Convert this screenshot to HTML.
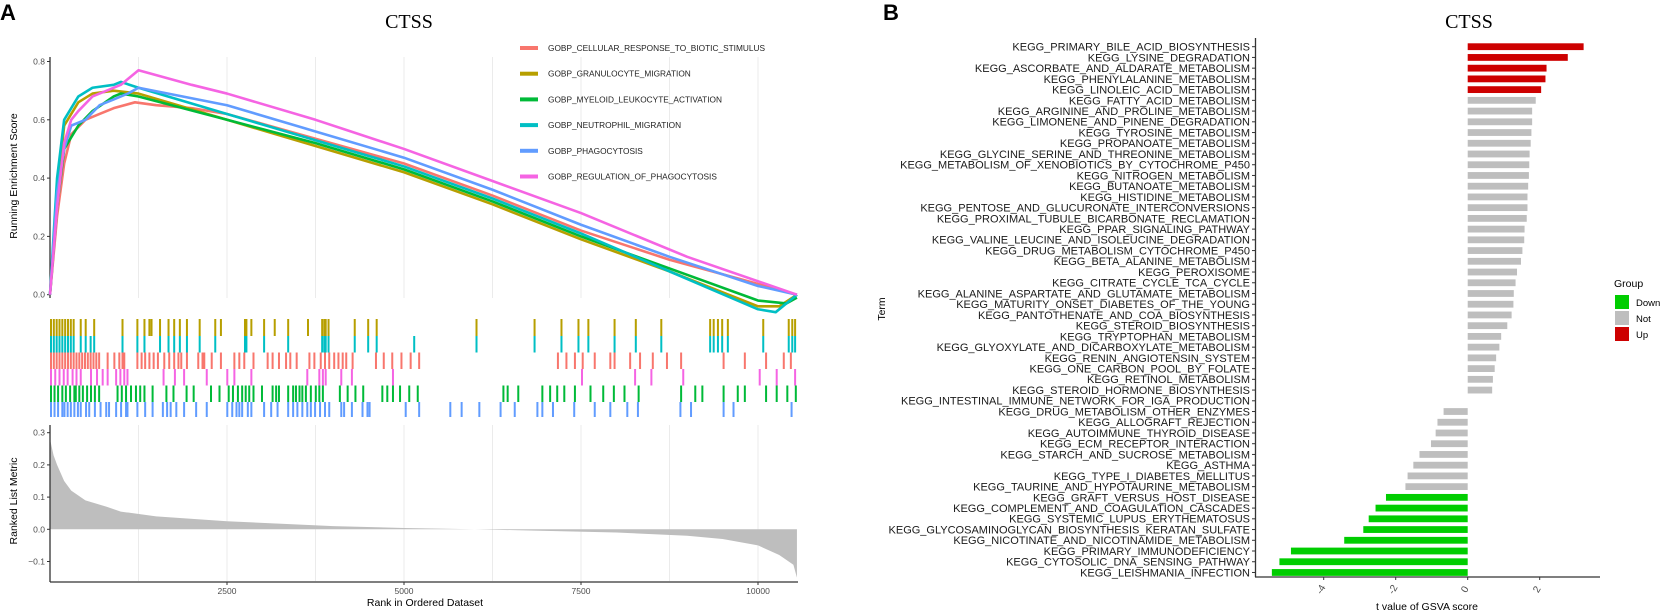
<!DOCTYPE html>
<html><head><meta charset="utf-8"><style>
html,body{margin:0;padding:0;background:#fff;}
svg{display:block;font-family:"Liberation Sans",sans-serif;}
</style></head><body>
<svg id="fig" width="1662" height="615" viewBox="0 0 1662 615">
<g id="panelA"></g>
<g id="panelB"></g>
</svg>
<script>
// ===== Panel A data =====
const setNames = ["GOBP_CELLULAR_RESPONSE_TO_BIOTIC_STIMULUS","GOBP_GRANULOCYTE_MIGRATION","GOBP_MYELOID_LEUKOCYTE_ACTIVATION","GOBP_NEUTROPHIL_MIGRATION","GOBP_PHAGOCYTOSIS","GOBP_REGULATION_OF_PHAGOCYTOSIS"];
const setColors = ["#F8766D","#B79F00","#00BA38","#00BFC4","#619CFF","#F564E3"];
const esRed = [[0,0],[100,0.27],[200,0.45],[300,0.55],[500,0.6],[700,0.62],[900,0.64],[1200,0.66],[1500,0.65],[2000,0.64],[2500,0.62],[3750,0.535],[5000,0.45],[6250,0.34],[7500,0.22],[8750,0.12],[9500,0.07],[10550,0.0]];
const esGold = [[0,0],[100,0.35],[200,0.58],[400,0.66],[600,0.69],[900,0.7],[1250,0.69],[2500,0.6],[3750,0.51],[5000,0.42],[6250,0.31],[7500,0.19],[8750,0.08],[10000,-0.04],[10300,-0.04],[10550,0.0]];
const esGreen = [[0,0],[100,0.3],[200,0.5],[400,0.58],[600,0.63],[900,0.68],[1000,0.69],[1250,0.68],[2500,0.6],[3750,0.52],[5000,0.43],[6250,0.32],[7500,0.2],[8750,0.09],[10000,-0.02],[10400,-0.03],[10550,-0.01]];
const esCyan = [[0,0],[100,0.4],[200,0.6],[400,0.68],[600,0.71],[900,0.72],[1000,0.73],[1250,0.71],[2500,0.62],[3750,0.53],[5000,0.44],[6250,0.33],[7500,0.21],[8750,0.08],[10000,-0.05],[10250,-0.06],[10550,0.0]];
const esBlue = [[0,0],[100,0.35],[200,0.5],[300,0.58],[500,0.6],[700,0.65],[900,0.67],[1100,0.69],[1250,0.71],[2500,0.65],[3750,0.56],[5000,0.47],[6250,0.36],[7500,0.24],[8750,0.13],[10000,0.03],[10550,0.0]];
const esMag = [[0,0],[100,0.3],[200,0.52],[300,0.6],[400,0.63],[600,0.68],[800,0.7],[1000,0.72],[1100,0.74],[1250,0.77],[2000,0.72],[2500,0.69],[3750,0.6],[5000,0.5],[6250,0.39],[7500,0.28],[9000,0.13],[10550,0.0]];
const hitsGold = [0,40,80,120,160,200,240,280,320,420,490,610,1010,1220,1320,1390,1420,1540,1660,1740,1820,1920,2100,2320,2400,2740,2760,2830,3010,3160,3350,3630,3830,3860,3880,3920,4290,4480,4600,6010,6830,7210,7450,7590,7960,8260,8620,9310,9360,9420,9480,9560,10060,10420,10470,10510];
const hitsCyan = [0,40,80,120,160,200,240,280,320,420,490,560,610,1010,1220,1320,1540,1660,1740,1820,1920,2100,2320,2740,2760,3010,3350,3830,3860,3880,3920,4290,4480,4600,5130,6010,6830,7210,7450,7590,7960,8260,8620,9310,9360,9420,9480,9560,10060,10420,10470,10510];
const hitsRed = [0,40,80,120,160,200,240,280,320,360,400,440,480,520,560,600,640,680,800,895,965,1010,1035,1220,1280,1330,1390,1450,1510,1600,1670,1740,1800,1840,1920,2080,2140,2165,2270,2400,2590,2660,2730,2860,3060,3130,3220,3320,3380,3470,3650,3720,3810,3870,3930,4000,4060,4120,4170,4260,4590,4700,4820,4950,5080,5200,7160,7280,7400,7510,7680,7900,7960,8180,8320,8500,8700,8900,9500,9800,10100,10350,10450];
const hitsMag = [0,60,120,180,235,305,360,420,565,650,730,800,920,980,1035,1080,1590,1750,1880,2200,2490,2590,2830,3620,3790,3840,3880,4100,4250,4830,7500,8250,8480,8930,10010,10250,10510];
const hitsGreen = [0,50,100,160,210,270,330,350,400,450,510,565,620,680,940,1000,1060,1130,1200,1260,1320,1435,1630,1730,1915,2015,2260,2380,2510,2570,2640,2700,2750,2800,2860,2980,3130,3180,3220,3350,3420,3460,3510,3550,3600,3670,3740,3790,3840,4080,4190,4300,4410,4680,4750,4830,4930,5060,5180,6390,6450,6600,6940,7050,7150,7250,7400,7620,7800,7950,8100,8300,8900,9100,9200,9500,9700,9800,10100,10250,10400,10520];
const hitsBlue = [0,50,100,160,190,235,280,330,380,420,495,540,620,700,780,820,920,990,1060,1080,1220,1330,1435,1580,1640,1690,1770,1880,2050,2200,2490,2560,2620,2660,2700,2780,2830,3010,3110,3200,3350,3420,3480,3550,3620,3670,3730,3800,3870,3930,4100,4140,4250,4400,4470,4500,5010,5200,5640,5800,6050,6350,6550,6870,6940,7090,7390,7680,7900,8140,8290,8890,9040,9500,9640,10460];
const metricRank = [0,50,100,200,300,500,800,1000,1500,2500,4000,5000,6000,7000,8000,9000,9500,10000,10300,10500,10550];
const metricVal = [0.28,0.23,0.2,0.15,0.12,0.09,0.07,0.055,0.04,0.025,0.01,0.004,0,-0.005,-0.01,-0.02,-0.03,-0.05,-0.08,-0.11,-0.15];
const xTicksA = [2500,5000,7500,10000];
const esTicks = [0.0,0.2,0.4,0.6,0.8];
const metricTicks = [0.3,0.2,0.1,0.0,-0.1];

// ===== Panel B data =====
const terms = ["KEGG_PRIMARY_BILE_ACID_BIOSYNTHESIS","KEGG_LYSINE_DEGRADATION","KEGG_ASCORBATE_AND_ALDARATE_METABOLISM","KEGG_PHENYLALANINE_METABOLISM","KEGG_LINOLEIC_ACID_METABOLISM","KEGG_FATTY_ACID_METABOLISM","KEGG_ARGININE_AND_PROLINE_METABOLISM","KEGG_LIMONENE_AND_PINENE_DEGRADATION","KEGG_TYROSINE_METABOLISM","KEGG_PROPANOATE_METABOLISM","KEGG_GLYCINE_SERINE_AND_THREONINE_METABOLISM","KEGG_METABOLISM_OF_XENOBIOTICS_BY_CYTOCHROME_P450","KEGG_NITROGEN_METABOLISM","KEGG_BUTANOATE_METABOLISM","KEGG_HISTIDINE_METABOLISM","KEGG_PENTOSE_AND_GLUCURONATE_INTERCONVERSIONS","KEGG_PROXIMAL_TUBULE_BICARBONATE_RECLAMATION","KEGG_PPAR_SIGNALING_PATHWAY","KEGG_VALINE_LEUCINE_AND_ISOLEUCINE_DEGRADATION","KEGG_DRUG_METABOLISM_CYTOCHROME_P450","KEGG_BETA_ALANINE_METABOLISM","KEGG_PEROXISOME","KEGG_CITRATE_CYCLE_TCA_CYCLE","KEGG_ALANINE_ASPARTATE_AND_GLUTAMATE_METABOLISM","KEGG_MATURITY_ONSET_DIABETES_OF_THE_YOUNG","KEGG_PANTOTHENATE_AND_COA_BIOSYNTHESIS","KEGG_STEROID_BIOSYNTHESIS","KEGG_TRYPTOPHAN_METABOLISM","KEGG_GLYOXYLATE_AND_DICARBOXYLATE_METABOLISM","KEGG_RENIN_ANGIOTENSIN_SYSTEM","KEGG_ONE_CARBON_POOL_BY_FOLATE","KEGG_RETINOL_METABOLISM","KEGG_STEROID_HORMONE_BIOSYNTHESIS","KEGG_INTESTINAL_IMMUNE_NETWORK_FOR_IGA_PRODUCTION","KEGG_DRUG_METABOLISM_OTHER_ENZYMES","KEGG_ALLOGRAFT_REJECTION","KEGG_AUTOIMMUNE_THYROID_DISEASE","KEGG_ECM_RECEPTOR_INTERACTION","KEGG_STARCH_AND_SUCROSE_METABOLISM","KEGG_ASTHMA","KEGG_TYPE_I_DIABETES_MELLITUS","KEGG_TAURINE_AND_HYPOTAURINE_METABOLISM","KEGG_GRAFT_VERSUS_HOST_DISEASE","KEGG_COMPLEMENT_AND_COAGULATION_CASCADES","KEGG_SYSTEMIC_LUPUS_ERYTHEMATOSUS","KEGG_GLYCOSAMINOGLYCAN_BIOSYNTHESIS_KERATAN_SULFATE","KEGG_NICOTINATE_AND_NICOTINAMIDE_METABOLISM","KEGG_PRIMARY_IMMUNODEFICIENCY","KEGG_CYTOSOLIC_DNA_SENSING_PATHWAY","KEGG_LEISHMANIA_INFECTION"];
const tValues = [3.22,2.78,2.19,2.16,2.04,1.89,1.79,1.79,1.77,1.75,1.72,1.71,1.70,1.68,1.66,1.66,1.64,1.58,1.57,1.52,1.48,1.37,1.33,1.28,1.27,1.22,1.10,0.93,0.88,0.79,0.75,0.70,0.68,0.0,-0.67,-0.84,-0.89,-1.02,-1.34,-1.51,-1.67,-1.73,-2.27,-2.56,-2.75,-2.90,-3.43,-4.91,-5.23,-5.44];
const groups = ["Up","Up","Up","Up","Up","Not","Not","Not","Not","Not","Not","Not","Not","Not","Not","Not","Not","Not","Not","Not","Not","Not","Not","Not","Not","Not","Not","Not","Not","Not","Not","Not","Not","Not","Not","Not","Not","Not","Not","Not","Not","Not","Down","Down","Down","Down","Down","Down","Down","Down"];
const tTicks = [-4,-2,0,2];
const groupNames = ["Down","Not","Up"];
const groupColors = {Down:"#00CD00",Not:"#BEBEBE",Up:"#CD0000"};

const NS = "http://www.w3.org/2000/svg";
function mk(parent, tag, attrs, text){
  const e = document.createElementNS(NS, tag);
  for (const k in attrs) e.setAttribute(k, attrs[k]);
  if (text !== undefined) e.textContent = text;
  parent.appendChild(e);
  return e;
}
// ---- Panel A scales
const A = document.getElementById('panelA');
const xR = r => 50 + r * 0.0708;
const yES = v => 294.7 - v * 291.5;
const yM = v => 529.3 - v * 322;

let t = mk(A,'text',{x:0,y:20,'font-size':22,'font-weight':'bold'},'A');


t = mk(A,'text',{x:409,y:28,'font-size':20,'text-anchor':'middle','font-family':'Liberation Serif, serif'},'CTSS');



[1250,2500,3750,5000,6250,7500,8750,10000].forEach(r=>{
  const g = mk(A,'line',{x1:xR(r),x2:xR(r),y1:57,y2:298,stroke:'#ebebeb','stroke-width':1});
  
  
  const g2 = mk(A,'line',{x1:xR(r),x2:xR(r),y1:425,y2:581,stroke:'#ebebeb','stroke-width':1});
  
  
});
let ax = mk(A,'line',{x1:50,x2:50,y1:57,y2:298,stroke:'#333','stroke-width':1.3});


esTicks.forEach(v=>{
  mk(A,'line',{x1:47,x2:50,y1:yES(v),y2:yES(v),stroke:'#333'});
  const l = mk(A,'text',{x:45,y:yES(v)+3,'font-size':8.5,fill:'#4d4d4d','text-anchor':'end'},v.toFixed(1));
  
  
});
t = mk(A,'text',{x:0,y:0,'font-size':10.5,'text-anchor':'middle',transform:'translate(17,176) rotate(-90)'},'Running Enrichment Score');



const esSeries = [esRed,esGold,esGreen,esCyan,esBlue,esMag];
esSeries.forEach((s,i)=>{
  const p = mk(A,'polyline',{points:s.map(d=>xR(d[0])+','+yES(d[1])).join(' '),fill:'none',stroke:setColors[i],'stroke-width':2.6,'stroke-linejoin':'round'});
  
  
});
setNames.forEach((n,i)=>{
  const y = 48 + i*25.7;
  const r = mk(A,'rect',{x:520,y:y-2,width:18,height:4,fill:setColors[i]});
  
  
  const l = mk(A,'text',{x:548,y:y+3,'font-size':8.3,fill:'#222'},n);
  
  
});
const rugSets = [[hitsGold,1,319,17],[hitsCyan,3,336,16.5],[hitsRed,0,352.5,16.5],[hitsMag,5,369,16.5],[hitsGreen,2,385.5,16.5],[hitsBlue,4,402,15]];
rugSets.forEach(([h,ci,y0,hh])=>{
  h.forEach(r=>{
    const b = mk(A,'rect',{x:xR(r),y:y0,width:2,height:hh,fill:setColors[ci]});
    
    
  });
});
let pts = [xR(metricRank[0])+','+yM(0)];
metricRank.forEach((r,i)=>pts.push(xR(r)+','+yM(metricVal[i])));
pts.push(xR(metricRank[metricRank.length-1])+','+yM(0));
let area = mk(A,'polygon',{points:pts.join(' '),fill:'#bebebe'});


ax = mk(A,'line',{x1:50,x2:50,y1:425,y2:582,stroke:'#333','stroke-width':1.3});


ax = mk(A,'line',{x1:50,x2:798,y1:582,y2:582,stroke:'#333','stroke-width':1.3});


metricTicks.forEach(v=>{
  mk(A,'line',{x1:47,x2:50,y1:yM(v),y2:yM(v),stroke:'#333'});
  const l = mk(A,'text',{x:45,y:yM(v)+3,'font-size':8.5,fill:'#4d4d4d','text-anchor':'end'},v===0?'0.0':(v<0?'\u2212'+Math.abs(v).toFixed(1):v.toFixed(1)));
  
  
});
xTicksA.forEach(r=>{
  mk(A,'line',{x1:xR(r),x2:xR(r),y1:582,y2:585,stroke:'#333'});
  const l = mk(A,'text',{x:xR(r),y:594,'font-size':8.5,fill:'#4d4d4d','text-anchor':'middle'},r);
  
  
});
t = mk(A,'text',{x:0,y:0,'font-size':10.5,'text-anchor':'middle',transform:'translate(17,501) rotate(-90)'},'Ranked List Metric');


t = mk(A,'text',{x:425,y:606,'font-size':10.5,'text-anchor':'middle'},'Rank in Ordered Dataset');



// ---- Panel B
const B = document.getElementById('panelB');
const xT = v => 1467.7 + v * 36;
const yRow = i => 46.7 + i * 10.73;
t = mk(B,'text',{x:883,y:20,'font-size':22,'font-weight':'bold'},'B');


t = mk(B,'text',{x:1469,y:28,'font-size':20,'text-anchor':'middle','font-family':'Liberation Serif, serif'},'CTSS');


terms.forEach((n,i)=>{
  const y = yRow(i);
  const v = tValues[i];
  if (v !== 0){
    const b = mk(B,'rect',{x:Math.min(xT(0),xT(v)),y:y-3.4,width:Math.abs(xT(v)-xT(0)),height:6.8,fill:groupColors[groups[i]]});
    
    
  }
  mk(B,'line',{x1:1252,x2:1255,y1:y,y2:y,stroke:'#333'});
  const l = mk(B,'text',{x:1250,y:y+3.9,'font-size':11,fill:'#1a1a1a','text-anchor':'end'},n);
  
  
});
ax = mk(B,'line',{x1:1255.5,x2:1255.5,y1:38,y2:577,stroke:'#333','stroke-width':1.3});


ax = mk(B,'line',{x1:1255,x2:1600,y1:577,y2:577,stroke:'#333','stroke-width':1.3});


tTicks.forEach(v=>{
  mk(B,'line',{x1:xT(v),x2:xT(v),y1:577,y2:580,stroke:'#333'});
  const l = mk(B,'text',{x:0,y:0,'font-size':10,fill:'#4d4d4d','text-anchor':'middle',transform:'translate('+(xT(v))+',591) rotate(-60)'},v);
  
  
});
t = mk(B,'text',{x:1427,y:610,'font-size':10.5,'text-anchor':'middle'},'t value of GSVA score');


t = mk(B,'text',{x:0,y:0,'font-size':10.5,'text-anchor':'middle',transform:'translate(885,309) rotate(-90)'},'Term');


t = mk(B,'text',{x:1614,y:287,'font-size':10.5},'Group');


groupNames.forEach((g,i)=>{
  const r = mk(B,'rect',{x:1615,y:295+i*16,width:14,height:14,fill:groupColors[g]});
  
  
  const l = mk(B,'text',{x:1636,y:306+i*16,'font-size':9.5},g);
  
  
});
</script>
</body></html>
